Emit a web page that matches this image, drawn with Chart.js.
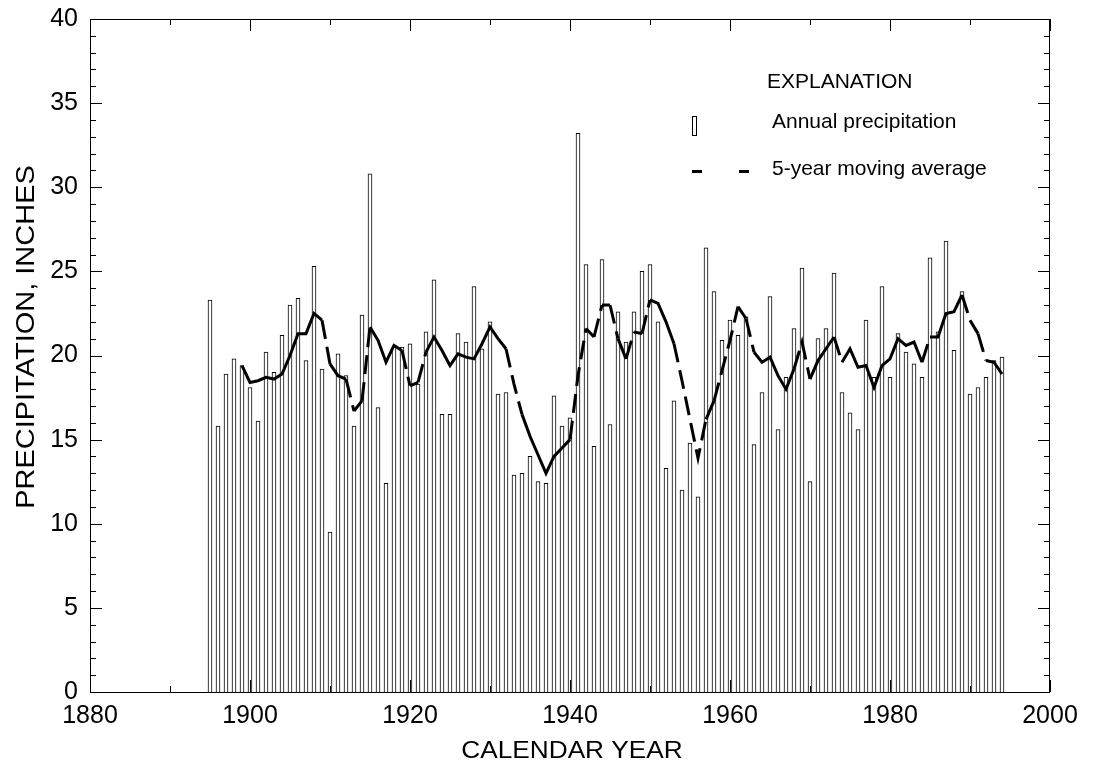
<!DOCTYPE html>
<html>
<head>
<meta charset="utf-8">
<script src="https://cdn.jsdelivr.net/npm/chart.js@4.4.1/dist/chart.umd.min.js"></script>
<style>
  html, body { margin: 0; padding: 0; background: #fff; }
  #wrap { width: 1093px; height: 770px; position: relative; }
</style>
</head>
<body>
<div id="wrap"><canvas id="precipChart"></canvas></div>
<script>
// --- data (inches) ---
const years = [
  1895, 1896, 1897, 1898, 1899, 1900, 1901, 1902, 1903, 1904,
  1905, 1906, 1907, 1908, 1909, 1910, 1911, 1912, 1913, 1914,
  1915, 1916, 1917, 1918, 1919, 1920, 1921, 1922, 1923, 1924,
  1925, 1926, 1927, 1928, 1929, 1930, 1931, 1932, 1933, 1934,
  1935, 1936, 1937, 1938, 1939, 1940, 1941, 1942, 1943, 1944,
  1945, 1946, 1947, 1948, 1949, 1950, 1951, 1952, 1953, 1954,
  1955, 1956, 1957, 1958, 1959, 1960, 1961, 1962, 1963, 1964,
  1965, 1966, 1967, 1968, 1969, 1970, 1971, 1972, 1973, 1974,
  1975, 1976, 1977, 1978, 1979, 1980, 1981, 1982, 1983, 1984,
  1985, 1986, 1987, 1988, 1989, 1990, 1991, 1992, 1993, 1994
];
const annualPrecip = [
  23.3, 15.8, 18.9, 19.8, 19.4, 18.1, 16.1, 20.2, 19.0, 21.2,
  23.0, 23.4, 19.7, 25.3, 19.2, 9.5, 20.1, 18.8, 15.8, 22.4,
  30.8, 16.9, 12.4, 20.5, 20.5, 20.7, 18.3, 21.4, 24.5, 16.5,
  16.5, 21.3, 20.8, 24.1, 20.4, 22.0, 17.7, 17.8, 12.9, 13.0,
  14.0, 12.5, 12.4, 17.6, 15.8, 16.3, 33.2, 25.4, 14.6, 25.7,
  15.9, 22.6, 20.8, 22.6, 25.0, 25.4, 22.0, 13.3, 17.3, 12.0,
  14.8, 11.6, 26.4, 23.8, 20.9, 22.1, 21.2, 22.3, 14.7, 17.8,
  23.5, 15.6, 18.7, 21.6, 25.2, 12.5, 21.0, 21.6, 24.9, 17.8,
  16.6, 15.6, 22.1, 18.7, 24.1, 18.7, 21.3, 20.2, 19.5, 18.7,
  25.8, 21.4, 26.8, 20.3, 23.8, 17.7, 18.1, 18.7, 19.7, 19.9
];
const movingAvg5yr = [
  null, null, null, null, 19.4, 18.4, 18.5, 18.7, 18.6, 18.9,
  20.0, 21.3, 21.3, 22.5, 22.1, 19.5, 18.8, 18.6, 16.7, 17.3,
  21.7, 20.9, 19.6, 20.6, 20.3, 18.2, 18.4, 20.2, 21.1, 20.3,
  19.4, 20.1, 19.9, 19.8, 20.7, 21.7, 21.0, 20.4, 18.3, 16.5,
  15.2, 14.1, 13.0, 14.0, 14.5, 15.0, 18.8, 21.6, 21.1, 23.0,
  23.0, 21.0, 19.8, 21.4, 21.3, 23.3, 23.1, 22.0, 20.7, 18.5,
  16.2, 13.9, 16.2, 17.3, 19.1, 20.9, 22.9, 22.2, 20.2, 19.6,
  19.9, 18.8, 18.0, 19.2, 20.8, 18.6, 19.7, 20.4, 21.1, 19.6,
  20.4, 19.3, 19.4, 18.1, 19.4, 19.8, 21.0, 20.6, 20.8, 19.6,
  21.1, 21.1, 22.5, 22.6, 23.6, 22.1, 21.3, 19.7, 19.6, 18.9
];

const FONT = "'Liberation Sans', Arial, Helvetica, sans-serif";
Chart.defaults.font.family = FONT;
Chart.defaults.color = '#000';

// box around the plot + tick marks pointing inward on all four sides
const frameTicks = {
  id: 'frameTicks',
  afterDatasetsDraw(chart) {
    const { ctx, chartArea: a, scales: { x, y } } = chart;
    ctx.save();
    ctx.strokeStyle = '#000';
    ctx.lineWidth = 1;
    ctx.strokeRect(a.left + 0.5, a.top + 0.5, a.right - a.left - 1, a.bottom - a.top);
    ctx.beginPath();
    for (let v = x.min; v <= x.max; v += 10) {
      const px = Math.round(x.getPixelForValue(v)) + 0.5;
      const len = v % 20 === 0 ? 12 : 6;
      ctx.moveTo(px, a.bottom); ctx.lineTo(px, a.bottom - len);
      ctx.moveTo(px, a.top); ctx.lineTo(px, a.top + len);
    }
    for (let v = y.min; v <= y.max; v += 1) {
      const py = Math.round(y.getPixelForValue(v)) + 0.5;
      const len = v % 5 === 0 ? 12 : 6;
      ctx.moveTo(a.left, py); ctx.lineTo(a.left + len, py);
      ctx.moveTo(a.right, py); ctx.lineTo(a.right - len, py);
    }
    ctx.stroke();
    ctx.restore();
  }
};

function stretchedText(ctx, text, x, y, size, sx, rot) {
  ctx.save();
  ctx.translate(x, y);
  if (rot) ctx.rotate(rot);
  ctx.scale(sx, 1);
  ctx.font = size + 'px ' + FONT;
  ctx.textAlign = 'center';
  ctx.textBaseline = 'alphabetic';
  ctx.fillStyle = '#000';
  ctx.fillText(text, 0, 0);
  ctx.restore();
}

// axis titles and the EXPLANATION block
const annotations = {
  id: 'annotations',
  afterDraw(chart) {
    const ctx = chart.ctx;
    stretchedText(ctx, 'CALENDAR YEAR', 572, 758, 23, 1.14, 0);
    stretchedText(ctx, 'PRECIPITATION, INCHES', 34, 337, 25, 1.16, -Math.PI / 2);

    ctx.save();
    ctx.fillStyle = '#000';
    ctx.font = '21px ' + FONT;
    ctx.textAlign = 'left';
    ctx.textBaseline = 'alphabetic';
    ctx.fillText('EXPLANATION', 767, 88);
    ctx.fillText('Annual precipitation', 772, 128);
    ctx.fillText('5-year moving average', 772, 175);

    ctx.strokeStyle = '#000';
    ctx.lineWidth = 1;
    ctx.fillStyle = '#fff';
    ctx.fillRect(692.5, 116.5, 4, 19);
    ctx.strokeRect(692.5, 116.5, 4, 19);

    ctx.lineWidth = 3;
    ctx.beginPath();
    ctx.moveTo(692, 171.5); ctx.lineTo(702, 171.5);
    ctx.moveTo(739, 171.5); ctx.lineTo(749, 171.5);
    ctx.stroke();
    ctx.restore();
  }
};

const steep = c => Math.abs(c.p1.parsed.y - c.p0.parsed.y) > 1.4;

new Chart(document.getElementById('precipChart'), {
  type: 'bar',
  data: {
    datasets: [
      {
        type: 'line',
        label: '5-year moving average',
        data: years.map((yr, i) => ({ x: yr, y: movingAvg5yr[i] })),
        borderColor: '#000',
        borderWidth: 3,
        borderCapStyle: 'butt',
        borderJoinStyle: 'miter',
        pointRadius: 0,
        tension: 0,
        fill: false,
        order: 0,
        segment: { borderDash: c => steep(c) ? [19, 8] : undefined }
      },
      {
        type: 'bar',
        label: 'Annual precipitation',
        data: years.map((yr, i) => ({ x: yr, y: annualPrecip[i] })),
        backgroundColor: '#fff',
        borderColor: '#000',
        borderWidth: 1,
        barThickness: 4,
        order: 1
      }
    ]
  },
  options: {
    responsive: true,
    maintainAspectRatio: false,
    animation: false,
    layout: { padding: { top: 19, right: 43, bottom: 0, left: 0 } },
    plugins: {
      legend: { display: false },
      tooltip: { enabled: false }
    },
    scales: {
      x: {
        type: 'linear',
        min: 1880,
        max: 2000,
        offset: false,
        grid: { display: false, drawTicks: false, offset: false },
        border: { display: false },
        ticks: {
          stepSize: 20,
          padding: 9,
          maxRotation: 0,
          autoSkip: false,
          font: { size: 25 },
          callback: v => String(v)
        },
        afterFit: s => { s.height = 78; s.paddingLeft = 0; s.paddingRight = 0; }
      },
      y: {
        min: 0,
        max: 40,
        grid: { display: false, drawTicks: false },
        border: { display: false },
        ticks: { stepSize: 5, padding: 12, font: { size: 25 } },
        afterFit: s => { s.width = 90; s.paddingTop = 0; s.paddingBottom = 0; }
      }
    }
  },
  plugins: [frameTicks, annotations]
});
</script>
</body>
</html>
